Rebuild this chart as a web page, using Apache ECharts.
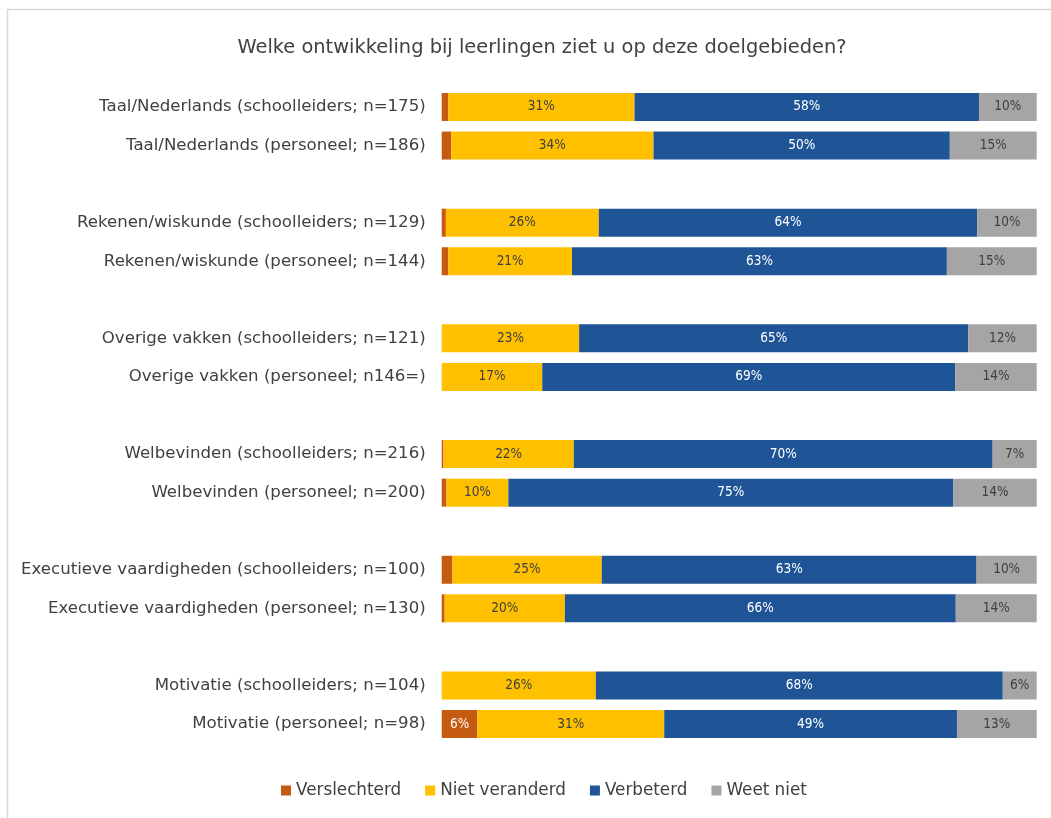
<!DOCTYPE html>
<html>
<head>
<meta charset="utf-8">
<script src="https://cdn.jsdelivr.net/npm/echarts@6/dist/echarts.min.js"></script>
<style>html,body{margin:0;padding:0;background:#fff;}#c{width:1051px;height:818px;}</style>
</head>
<body>
<div id="c"></div>
<script>
const title = 'Welke ontwikkeling bij leerlingen ziet u op deze doelgebieden?';
const categories = [
  'Taal/Nederlands (schoolleiders; n=175)',
  'Taal/Nederlands (personeel; n=186)',
  '',
  'Rekenen/wiskunde (schoolleiders; n=129)',
  'Rekenen/wiskunde (personeel; n=144)',
  '',
  'Overige vakken (schoolleiders; n=121)',
  'Overige vakken (personeel; n146=)',
  '',
  'Welbevinden (schoolleiders; n=216)',
  'Welbevinden (personeel; n=200)',
  '',
  'Executieve vaardigheden (schoolleiders; n=100)',
  'Executieve vaardigheden (personeel; n=130)',
  '',
  'Motivatie (schoolleiders; n=104)',
  'Motivatie (personeel; n=98)'
];
const seriesNames = ['Verslechterd', 'Niet veranderd', 'Verbeterd', 'Weet niet'];
const verslechterd = [1.1, 1.6, null, 0.7, 1.1, null, 0, 0, null, 0.3, 0.8, null, 1.8, 0.5, null, 0, 6.0];
const nietVeranderd = [31.3, 34.0, null, 25.7, 20.8, null, 23.1, 16.9, null, 21.9, 10.4, null, 25.1, 20.2, null, 25.9, 31.4];
const verbeterd = [57.9, 49.8, null, 63.6, 63.0, null, 65.4, 69.4, null, 70.4, 74.8, null, 63.0, 65.7, null, 68.4, 49.2];
const weetNiet = [9.7, 14.6, null, 10.0, 15.1, null, 11.5, 13.7, null, 7.4, 14.0, null, 10.1, 13.6, null, 5.7, 13.4];

const colors = ['#C55A11', '#FFC000', '#1F5596', '#A5A5A5'];
const labelColors = ['#ffffff', '#404040', '#ffffff', '#404040'];
const datasets = [verslechterd, nietVeranderd, verbeterd, weetNiet];
const FONT = 'DejaVu Sans';
const FONT_C = 'DejaVu Sans Condensed';

const chart = echarts.init(document.getElementById('c'));
chart.setOption({
  backgroundColor: '#ffffff',
  animation: false,
  textStyle: { fontFamily: FONT },
  title: {
    text: title,
    left: 537, textAlign: 'center', top: 33,
    textStyle: { fontFamily: FONT, fontSize: 19.4, fontWeight: 'normal', color: '#404040' }
  },
  graphic: [{
    type: 'rect', silent: true,
    shape: { x: 7.5, y: 9.5, width: 1200, height: 1000 },
    style: { fill: 'none', stroke: '#d9d9d9', lineWidth: 1.5 }
  }],
  legend: {
    bottom: 14, left: 276,
    itemWidth: 10, itemHeight: 10, itemGap: 24, icon: 'rect',
    textStyle: { fontFamily: FONT, fontSize: 16.8, color: '#404040' },
    data: seriesNames
  },
  grid: { left: 441.7, right: 14.3, top: 87.7, bottom: 818 - 743.3 },
  xAxis: {
    type: 'value', min: 0, max: 100, show: false
  },
  yAxis: {
    type: 'category', inverse: true, data: categories,
    axisLine: { show: false }, axisTick: { show: false },
    axisLabel: { margin: 16, fontFamily: FONT, fontSize: 16.6, color: '#404040' }
  },
  series: seriesNames.map((name, i) => ({
    name: name, type: 'bar', stack: 'total',
    barWidth: 28,
    itemStyle: { color: colors[i] },
    label: {
      show: true, position: 'inside',
      fontFamily: FONT_C, fontSize: 13.5, color: labelColors[i],
      formatter: p => (p.value != null && p.value >= 5) ? Math.round(p.value) + '%' : ''
    },
    data: datasets[i]
  }))
});
</script>
</body>
</html>
